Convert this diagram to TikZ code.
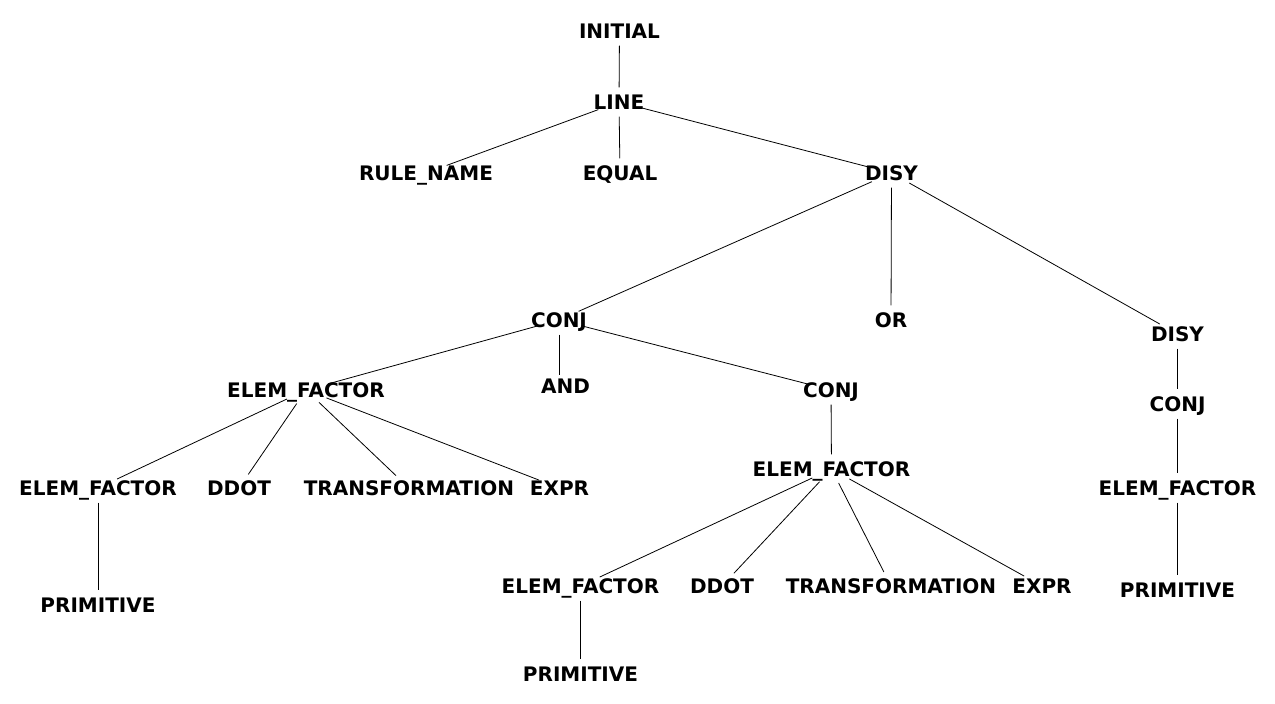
\documentclass[tikz,border=0pt]{standalone}
\usepackage{fontspec}
\setmainfont{DejaVu Sans}
\usetikzlibrary{shapes.geometric}
\tikzset{
  tn/.style={ellipse, minimum width=48pt, minimum height=29pt, inner sep=0pt,
    text height=14.58pt, text depth=0pt,
    font=\fontsize{20}{24}\selectfont\bfseries},
  ed/.style={draw=black, line width=0.8pt}
}
\newcommand{\nodetxt}[1]{\makebox[0pt]{#1}}
\begin{document}
\begin{tikzpicture}[x=1pt,y=-1pt]
\useasboundingbox (0,0) rectangle (1275,704);
\node[tn] (initial) at (619.5,31) {\nodetxt{INITIAL}};
\node[tn] (line) at (619,102) {\nodetxt{LINE}};
\node[tn] (rule) at (426,173) {\nodetxt{RULE\_NAME}};
\node[tn] (equal) at (620,173) {\nodetxt{EQUAL}};
\node[tn] (disy) at (891.5,173) {\nodetxt{DISY}};
\node[tn] (conj) at (559,320) {\nodetxt{CONJ}};
\node[tn] (or) at (891,320) {\nodetxt{OR}};
\node[tn] (disyb) at (1177.5,334) {\nodetxt{DISY}};
\node[tn] (efa) at (306,390) {\nodetxt{ELEM\_FACTOR}};
\node[tn] (and) at (565.5,386) {\nodetxt{AND}};
\node[tn] (conjb) at (831,390) {\nodetxt{CONJ}};
\node[tn] (conjc) at (1177.5,404) {\nodetxt{CONJ}};
\node[tn] (efaa) at (98,488) {\nodetxt{ELEM\_FACTOR}};
\node[tn] (ddota) at (239,488) {\nodetxt{DDOT}};
\node[tn] (transa) at (409,488) {\nodetxt{TRANSFORMATION}};
\node[tn] (expra) at (559.5,488) {\nodetxt{EXPR}};
\node[tn] (efb) at (831.5,469) {\nodetxt{ELEM\_FACTOR}};
\node[tn] (efc) at (1177.5,488) {\nodetxt{ELEM\_FACTOR}};
\node[tn] (prima) at (98,605) {\nodetxt{PRIMITIVE}};
\node[tn] (efbb) at (580.5,586) {\nodetxt{ELEM\_FACTOR}};
\node[tn] (ddotb) at (722,586) {\nodetxt{DDOT}};
\node[tn] (transb) at (891,586) {\nodetxt{TRANSFORMATION}};
\node[tn] (exprb) at (1042,586) {\nodetxt{EXPR}};
\node[tn] (primc) at (1177.5,590) {\nodetxt{PRIMITIVE}};
\node[tn] (primb) at (580.5,674) {\nodetxt{PRIMITIVE}};
\coordinate (andtop) at ([yshift=-4pt]and.north -| conj);
\draw[ed] (initial) -- (line);
\draw[ed] (line) -- (rule);
\draw[ed] (line) -- (equal);
\draw[ed] (line) -- (disy);
\draw[ed] (disy) -- (conj);
\draw[ed] (disy) -- (or);
\draw[ed] (disy) -- (disyb);
\draw[ed] (conj) -- (efa);
\draw[ed] (conj.south) -- (andtop);
\draw[ed] (conj) -- (conjb);
\draw[ed] (efa) -- (efaa);
\draw[ed] (efa) -- (ddota);
\draw[ed] (efa) -- (transa);
\draw[ed] (efa) -- (expra);
\draw[ed] (efaa) -- (prima);
\draw[ed] (conjb) -- (efb);
\draw[ed] (efb) -- (efbb);
\draw[ed] (efb) -- (ddotb);
\draw[ed] (efb) -- (transb);
\draw[ed] (efb) -- (exprb);
\draw[ed] (efbb) -- (primb);
\draw[ed] (disyb) -- (conjc);
\draw[ed] (conjc) -- (efc);
\draw[ed] (efc) -- (primc);
\end{tikzpicture}
\end{document}
